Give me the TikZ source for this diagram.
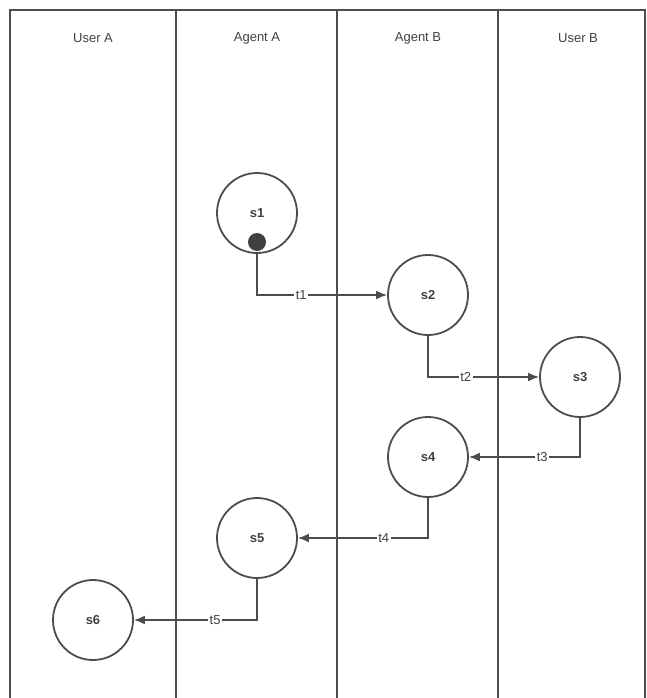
\documentclass[tikz,border=0pt]{standalone}
\usepackage{fontspec}
\setmainfont{Liberation Sans}
\usetikzlibrary{arrows.meta}
\begin{document}
\begin{tikzpicture}[x=1pt,y=-1pt,font=\fontsize{13}{15}\selectfont,line width=1.8pt,text=black!75,
state/.style={circle,draw=black!70,line width=1.8pt,minimum size=80pt,inner sep=0pt},
trans/.style={-{Latex[length=11pt,width=9pt]},draw=black!70,line width=1.8pt},
lbl/.style={fill=white,inner sep=1.5pt,pos=0.67}]
\useasboundingbox(0,0)rectangle(647,698);
\draw[black!70](10,698)--(10,10)--(645,10)--(645,698);
\foreach \x in {176,337,498}{\draw[black!70](\x,10)--(\x,698);}
\foreach \x/\t in {93/User A,257/Agent A,418/Agent B,578/User B}{\node(h\x) at (\x,38){\t};}
\node[state](s1) at (257,213){\textbf{s1}};
\node[state](s2) at (428,295){\textbf{s2}};
\node[state](s3) at (580,377){\textbf{s3}};
\node[state](s4) at (428,457){\textbf{s4}};
\node[state](s5) at (257,538){\textbf{s5}};
\node[state](s6) at (93,620){\textbf{s6}};
\fill[black!75](s1.center)++(0,29)circle(9);
\draw[trans](s1.south)|-(s2.west)node[lbl]{t1};
\draw[trans](s2.south)|-(s3.west)node[lbl]{t2};
\draw[trans](s3.south)|-(s4.east)node[lbl]{t3};
\draw[trans](s4.south)|-(s5.east)node[lbl]{t4};
\draw[trans](s5.south)|-(s6.east)node[lbl]{t5};
\end{tikzpicture}
\end{document}
